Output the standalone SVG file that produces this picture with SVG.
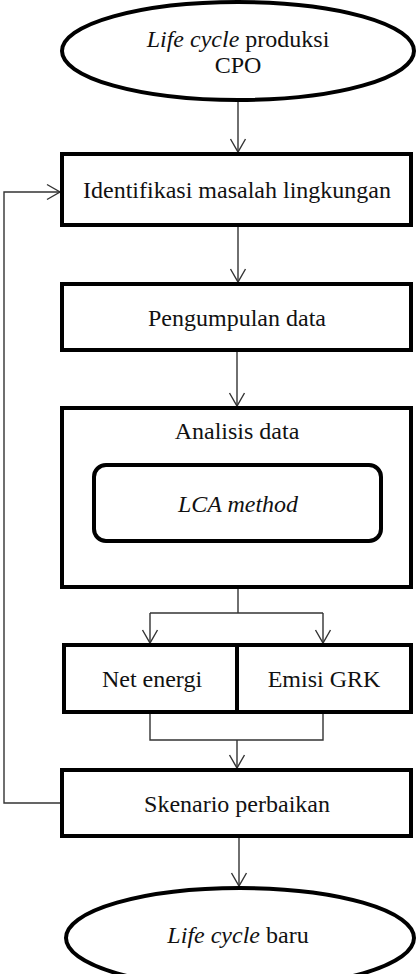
<svg xmlns="http://www.w3.org/2000/svg" width="417" height="974" viewBox="0 0 417 974">
<style>
.node{fill:#fff;stroke:#000;stroke-width:4}
.t{font-family:'Liberation Serif',Tinos,'Times New Roman',Times,'DejaVu Serif',serif;font-size:24px;fill:#111;text-anchor:middle}
.i{font-style:italic}
.c{fill:none;stroke:#333;stroke-width:1.4}
</style>
<defs>
<marker id="ah" markerUnits="userSpaceOnUse" markerWidth="20" markerHeight="20" viewBox="-14 -10 20 20" refX="0" refY="0" orient="auto" overflow="visible">
<path d="M -13 -7.5 L 0 0 L -13 7.5" fill="none" stroke="#333" stroke-width="1.4"/>
</marker>
</defs>
<rect width="417" height="974" fill="#fff"/>
<g id="connectors">
<path class="c" d="M238 100 L238 152" marker-end="url(#ah)"/>
<path class="c" d="M60 803 L4 803 L4 192 L60 192" marker-end="url(#ah)"/>
<path class="c" d="M238 226 L238 282" marker-end="url(#ah)"/>
<path class="c" d="M237 352 L237 406" marker-end="url(#ah)"/>
<path class="c" d="M238 543 L238 613"/>
<path class="c" d="M150 613 L323 613"/>
<path class="c" d="M150 613 L150 643" marker-end="url(#ah)"/>
<path class="c" d="M323 613 L323 643" marker-end="url(#ah)"/>
<path class="c" d="M150 714 L150 740 L323 740 L323 714"/>
<path class="c" d="M237 740 L237 768" marker-end="url(#ah)"/>
<path class="c" d="M239 838 L239 886" marker-end="url(#ah)"/>
</g>
<g id="start">
<ellipse class="node" cx="238" cy="51" rx="176" ry="49"/>
<text class="t" x="238" y="47"><tspan class="i">Life cycle</tspan> produksi</text>
<text class="t" x="238" y="73">CPO</text>
</g>
<g id="identifikasi">
<rect class="node" x="62" y="154" width="349" height="71"/>
<text class="t" x="237" y="198">Identifikasi masalah lingkungan</text>
</g>
<g id="pengumpulan">
<rect class="node" x="62" y="284" width="349" height="66"/>
<text class="t" x="237" y="326">Pengumpulan data</text>
</g>
<g id="analisis">
<rect class="node" x="62" y="408" width="349" height="179"/>
<text class="t" x="237" y="439">Analisis data</text>
</g>
<g id="lca">
<rect class="node" x="94" y="465" width="287" height="76" rx="12" ry="12"/>
<text class="t i" x="238" y="512">LCA method</text>
</g>
<g id="net-energi">
<rect class="node" x="64" y="645" width="173" height="67"/>
<text class="t" x="152" y="687">Net energi</text>
</g>
<g id="emisi-grk">
<rect class="node" x="237" y="645" width="174" height="67"/>
<text class="t" x="324" y="687">Emisi GRK</text>
</g>
<g id="skenario">
<rect class="node" x="62" y="770" width="349" height="66"/>
<text class="t" x="237" y="812">Skenario perbaikan</text>
</g>
<g id="end">
<ellipse class="node" cx="240" cy="938" rx="174" ry="50"/>
<text class="t" x="238" y="943"><tspan class="i">Life cycle</tspan> baru</text>
</g>
</svg>
